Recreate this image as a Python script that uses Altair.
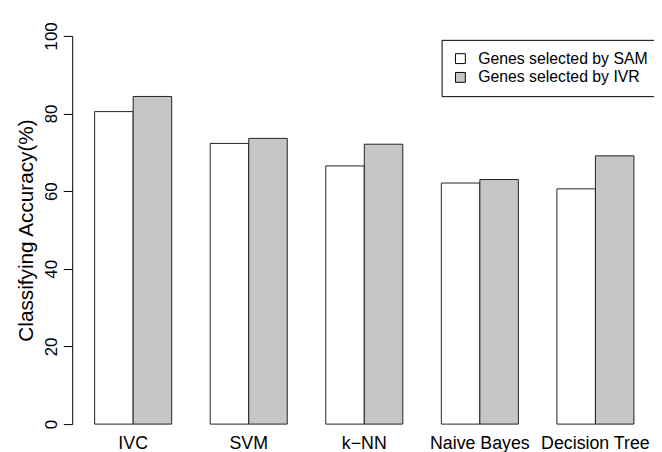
import altair as alt
import pandas as pd

methods = ["IVC", "SVM", "k\u2212NN", "Naive Bayes", "Decision Tree"]
series = ["Genes selected by SAM", "Genes selected by IVR"]
sam_values = [80.5, 72.3, 66.5, 62.1, 60.6]
ivr_values = [84.4, 73.6, 72.1, 63.0, 69.1]
y_ticks = [0, 20, 40, 60, 80, 100]

rows = []
for m, s, v in zip(methods, sam_values, ivr_values):
    rows.append({"method": m, "series": series[0], "value": s})
    rows.append({"method": m, "series": series[1], "value": v})
df = pd.DataFrame(rows)

FONT = "Liberation Sans"

chart = alt.Chart(df).mark_bar(stroke="#222222", strokeWidth=1).encode(
    x=alt.X(
        "method:N",
        sort=methods,
        scale=alt.Scale(paddingInner=1 / 3, paddingOuter=0.1496, align=0.6486),
        axis=alt.Axis(
            title=None, labelAngle=0, domain=False, ticks=False, tickSize=0,
            labelPadding=11, labelFontSize=18, labelFont=FONT, labelColor="black",
        ),
    ),
    xOffset=alt.XOffset(
        "series:N", sort=series, scale=alt.Scale(paddingInner=0, paddingOuter=0)
    ),
    y=alt.Y(
        "value:Q",
        scale=alt.Scale(domain=[0, 100], nice=False, zero=True),
        axis=alt.Axis(
            values=y_ticks, title="Classifying Accuracy(%)", grid=False,
            labelAngle=270, labelAlign="center", labelBaseline="bottom",
            labelPadding=3, labelFontSize=17, labelFont=FONT, labelColor="black",
            tickSize=9, tickColor="black", domainColor="black",
            titleFont=FONT, titleFontSize=21, titleFontWeight="normal",
            titleColor="black", titlePadding=6,
        ),
    ),
    color=alt.Color(
        "series:N",
        sort=series,
        scale=alt.Scale(domain=series, range=["white", "#c6c6c6"]),
        legend=alt.Legend(
            title=None, orient="none", legendX=374, legendY=4,
            strokeColor="black", fillColor="white", padding=11,
            symbolType="square", symbolSize=100, symbolStrokeColor="black",
            symbolStrokeWidth=1, symbolOpacity=1,
            labelFontSize=16, labelFont=FONT, labelColor="black",
            labelOffset=10, rowPadding=3, labelLimit=400,
        ),
    ),
).properties(
    width=581,
    height=393,
    autosize=alt.AutoSizeParams(type="none"),
    padding={"left": 65, "top": 25.5, "right": 8, "bottom": 25.5},
).configure_view(stroke=None)

chart.save("out.html", embed_options={"renderer": "svg", "actions": False})
